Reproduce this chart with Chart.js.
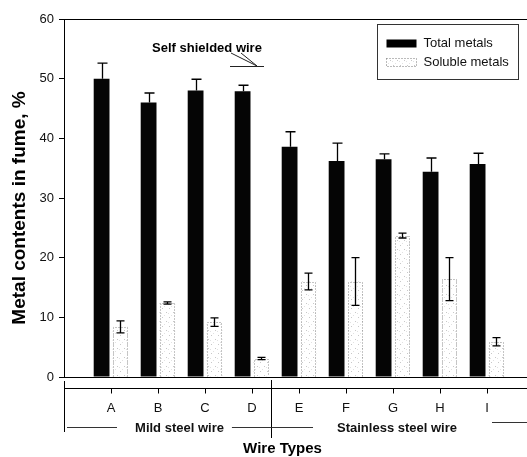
<!DOCTYPE html>
<html>
<head>
<meta charset="utf-8">
<script src="https://cdn.jsdelivr.net/npm/chart.js@4/dist/chart.umd.min.js"></script>
<style>
  html, body { margin: 0; padding: 0; background: #fff; overflow: hidden; }
  #wrap { width: 527px; height: 457px; overflow: hidden; }
</style>
</head>
<body>
<div id="wrap"><canvas id="chart" width="541" height="457"></canvas></div>
<script>
// wire types on the x axis
const categories = ['A', 'B', 'C', 'D', 'E', 'F', 'G', 'H', 'I'];

// metal contents in fume, %
const totalMetals = [50.0, 46.0, 48.0, 47.9, 38.6, 36.2, 36.5, 34.4, 35.7];
const totalErr = [2.6, 1.6, 1.9, 1.0, 2.5, 3.0, 0.9, 2.3, 1.8];
const solubleMetals = [8.4, 12.4, 9.2, 3.1, 16.0, 16.0, 23.7, 16.4, 5.9];
const solubleErr = [1.0, 0.2, 0.7, 0.2, 1.4, 4.0, 0.4, 3.6, 0.7];

const seriesNames = ['Total metals', 'Soluble metals'];
const groupNames = ['Mild steel wire', 'Stainless steel wire'];
const groupFirst = ['A', 'E'];
const groupLast = ['D', 'I'];
const axisTitles = ['Wire Types', 'Metal contents in fume, %'];
const noteText = 'Self shielded wire';

const yMin = 0, yMax = 60, yStep = 10;

// one empty slot each side so the bars sit like the original
const labels = [''].concat(categories, ['']);
const pad = arr => [null].concat(arr, [null]);

function speckle() {
    const c = document.createElement('canvas');
    c.width = 7; c.height = 9;
    const g = c.getContext('2d');
    g.fillStyle = '#fff';
    g.fillRect(0, 0, 7, 9);
    g.fillStyle = '#c8c8c8';
    g.fillRect(1, 2, 1, 1);
    g.fillRect(5, 6, 1, 1);
    g.fillStyle = '#e2e2e2';
    g.fillRect(3, 0, 1, 1);
    g.fillRect(0, 7, 1, 1);
    return g.createPattern(c, 'repeat');
}

const extras = {
    id: 'extras',
    afterDatasetsDraw(chart) {
        const ctx = chart.ctx;
        const y = chart.scales.y;
        ctx.save();

        // dotted outline for the soluble bars
        const sm = chart.getDatasetMeta(1);
        ctx.strokeStyle = '#8a8a8a';
        ctx.lineWidth = 1;
        ctx.setLineDash([1, 2]);
        sm.data.forEach((el, i) => {
            if (solubleMetals[i - 1] == null) return;
            const p = el.getProps(['x', 'y', 'base', 'width'], true);
            const l = Math.round(p.x - p.width / 2) + 0.5;
            const r = Math.round(p.x + p.width / 2) - 0.5;
            ctx.beginPath();
            ctx.moveTo(l, p.base);
            ctx.lineTo(l, Math.round(p.y) + 0.5);
            ctx.lineTo(r, Math.round(p.y) + 0.5);
            ctx.lineTo(r, p.base);
            ctx.stroke();
        });
        ctx.setLineDash([]);

        // error bars
        const drawErr = (di, vals, errs, cap, both) => {
            const meta = chart.getDatasetMeta(di);
            ctx.strokeStyle = '#000';
            ctx.lineWidth = 1.3;
            meta.data.forEach((el, i) => {
                const v = vals[i - 1];
                if (v == null) return;
                const x = Math.round(el.x) + 0.5;
                const top = y.getPixelForValue(v + errs[i - 1]);
                const bot = both ? y.getPixelForValue(v - errs[i - 1]) : y.getPixelForValue(v);
                ctx.beginPath();
                ctx.moveTo(x, top); ctx.lineTo(x, bot);
                ctx.moveTo(x - cap, top); ctx.lineTo(x + cap, top);
                if (both) { ctx.moveTo(x - cap, bot); ctx.lineTo(x + cap, bot); }
                ctx.stroke();
            });
        };
        drawErr(0, totalMetals, totalErr, 5, false);
        drawErr(1, solubleMetals, solubleErr, 4, true);
        ctx.restore();
    },
    afterDraw(chart) {
        const ctx = chart.ctx;
        const xs = chart.scales.x;
        const area = chart.chartArea;
        const step = xs.getPixelForValue(2) - xs.getPixelForValue(1);
        const px = c => xs.getPixelForValue(labels.indexOf(c));
        ctx.save();
        ctx.strokeStyle = '#000';
        ctx.lineWidth = 1;

        // frame top
        ctx.beginPath();
        ctx.moveTo(area.left, area.top + 0.5);
        ctx.lineTo(chart.width, area.top + 0.5);
        ctx.stroke();

        // lower category axis with tick marks
        const axY = area.bottom + 11.5;
        ctx.beginPath();
        ctx.moveTo(area.left, axY);
        ctx.lineTo(chart.width, axY);
        categories.forEach(c => {
            const x = Math.round(px(c)) + 0.5;
            ctx.moveTo(x, axY); ctx.lineTo(x, axY + 5);
        });
        ctx.stroke();

        ctx.fillStyle = '#111';
        ctx.font = '13px "Liberation Sans", Arial, sans-serif';
        ctx.textAlign = 'center';
        ctx.textBaseline = 'middle';
        categories.forEach(c => ctx.fillText(c, px(c), area.bottom + 31));

        // group brackets
        const divX = Math.round(px('D') + step * 0.4) + 0.5;
        const lineY = area.bottom + 50.5;
        ctx.beginPath();
        ctx.moveTo(area.left + 0.5, area.bottom + 4);
        ctx.lineTo(area.left + 0.5, area.bottom + 55);
        ctx.moveTo(divX, area.bottom + 3);
        ctx.lineTo(divX, area.bottom + 61);
        ctx.stroke();

        ctx.font = 'bold 13px "Liberation Sans", Arial, sans-serif';
        const g1 = (px(groupFirst[0]) + px(groupLast[0])) / 2 - 2;
        const g2 = (px(groupFirst[1]) + px(groupLast[1])) / 2 + 4;
        ctx.fillText(groupNames[0], g1, lineY + 1);
        ctx.fillText(groupNames[1], g2, lineY + 1);
        const w1 = ctx.measureText(groupNames[0]).width / 2;
        const w2 = ctx.measureText(groupNames[1]).width / 2;

        ctx.strokeStyle = '#333';
        ctx.beginPath();
        ctx.moveTo(area.left + 3, lineY); ctx.lineTo(px('A') + 6, lineY);
        ctx.moveTo(g1 + w1 + 8, lineY); ctx.lineTo(divX, lineY);
        ctx.moveTo(divX, lineY); ctx.lineTo(g2 - w2 - 24, lineY);
        ctx.moveTo(px('I') + 5, lineY - 5); ctx.lineTo(chart.width, lineY - 5);
        ctx.stroke();

        // axis titles
        ctx.fillStyle = '#000';
        ctx.font = 'bold 15px "Liberation Sans", Arial, sans-serif';
        ctx.fillText(axisTitles[0], divX + 11, area.bottom + 72);

        ctx.save();
        ctx.translate(20, (area.top + area.bottom) / 2 + 10);
        ctx.rotate(-Math.PI / 2);
        ctx.font = 'bold 19px "Liberation Sans", Arial, sans-serif';
        ctx.fillText(axisTitles[1], 0, 0);
        ctx.restore();

        // self shielded note with pointer
        ctx.font = 'bold 13px "Liberation Sans", Arial, sans-serif';
        ctx.fillText(noteText, 207, area.top + 29);
        ctx.strokeStyle = '#222';
        ctx.lineWidth = 1;
        ctx.beginPath();
        ctx.moveTo(231, area.top + 34); ctx.lineTo(257, area.top + 47);
        ctx.moveTo(241, area.top + 34); ctx.lineTo(257, area.top + 47);
        ctx.moveTo(230, area.top + 47.5); ctx.lineTo(264, area.top + 47.5);
        ctx.stroke();

        // legend box
        const lx = 377.5, ly = 24.5, lw = 141, lh = 55;
        ctx.strokeStyle = '#333';
        ctx.strokeRect(lx, ly, lw, lh);
        ctx.fillStyle = '#000';
        ctx.fillRect(lx + 9, ly + 15, 30, 8);
        ctx.fillStyle = speckle();
        ctx.fillRect(lx + 9, ly + 34, 30, 8);
        ctx.setLineDash([1, 2]);
        ctx.strokeStyle = '#777';
        ctx.strokeRect(lx + 9, ly + 34, 30, 8);
        ctx.setLineDash([]);
        ctx.fillStyle = '#111';
        ctx.font = '13px "Liberation Sans", Arial, sans-serif';
        ctx.textAlign = 'left';
        ctx.fillText(seriesNames[0], lx + 46, ly + 19);
        ctx.fillText(seriesNames[1], lx + 46, ly + 38);
        ctx.restore();
    }
};

new Chart(document.getElementById('chart'), {
    type: 'bar',
    data: {
        labels: labels,
        datasets: [{
            label: seriesNames[0],
            data: pad(totalMetals),
            backgroundColor: '#050505',
            borderWidth: 0
        }, {
            label: seriesNames[1],
            data: pad(solubleMetals),
            backgroundColor: speckle(),
            borderWidth: 0
        }]
    },
    options: {
        responsive: false,
        animation: false,
        devicePixelRatio: 1,
        layout: { padding: { top: 19, right: 7, left: 0, bottom: 0 } },
        datasets: { bar: { categoryPercentage: 0.8, barPercentage: 0.84 } },
        plugins: { legend: { display: false }, tooltip: { enabled: false } },
        scales: {
            x: {
                offset: false,
                grid: { display: false },
                ticks: { display: false },
                border: { display: true, color: '#000', width: 1 },
                afterFit: s => { s.height = 80; }
            },
            y: {
                min: yMin,
                max: yMax,
                ticks: {
                    stepSize: yStep,
                    color: '#111',
                    padding: 5,
                    font: { family: '"Liberation Sans", Arial, sans-serif', size: 13 }
                },
                grid: { drawOnChartArea: false, drawTicks: true, tickLength: 5, color: '#000' },
                border: { display: true, color: '#000', width: 1 },
                afterFit: s => { s.height; s.width = 64; }
            }
        }
    },
    plugins: [extras]
});
</script>
</body>
</html>
